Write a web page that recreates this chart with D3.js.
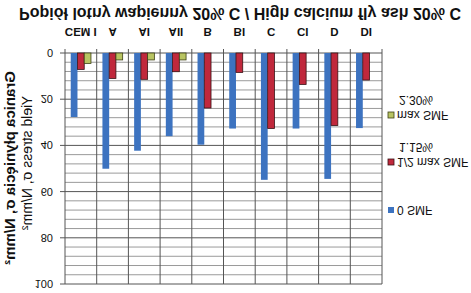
<!DOCTYPE html>
<html>
<head>
<meta charset="utf-8">
<script src="https://cdn.jsdelivr.net/npm/d3@7"></script>
<style>
  body { margin: 0; background: #fff; }
  text { font-family: "Liberation Sans", Arial, sans-serif; fill: #111; }
</style>
</head>
<body>
<div id="chart"></div>
<script>
// data
const categories = ['CEM I', 'A', 'AI', 'AII', 'B', 'BI', 'C', 'CI', 'D', 'DI'];
const smf0 = [27.7, 50.1, 42.3, 36, 39.7, 32.7, 54.9, 32.7, 54.5, 32.5];
const smfHalf = [7.1, 11, 11.4, 8.1, 23.8, 8.4, 32.7, 13.6, 31.4, 11.7];
const smfMax = [4.5, 3, 3, 3, null, null, null, null, null, null];
const seriesNames = ['0 SMF', '1/2 max SMF', 'max SMF'];
const seriesNotes = ['', '1.15%', '2.30%'];
const yTicks = [0, 20, 40, 60, 80, 100];

const width = 471, height = 293;
const colors = ['#3d73c0', '#c0283c', '#b8c462'];
const strokes = ['none', '#3a1216', '#3d4014'];

const svg = d3.select('#chart').append('svg')
  .attr('width', width)
  .attr('height', height);

// the whole picture is mirrored top to bottom
const root = svg.append('g')
  .attr('transform', `translate(0,${height}) scale(1,-1)`);

const x0 = d3.scaleBand().domain(categories).range([65, 382]);
const x1 = d3.scaleBand().domain(seriesNames).range([0, x0.bandwidth()]).paddingOuter(0.85);
const y = d3.scaleLinear().domain([0, 100]).range([240, 9]);

// minor grid
root.append('g')
  .selectAll('line')
  .data(d3.range(0, 101, 4).filter(v => v % 20 !== 0))
  .enter().append('line')
  .attr('x1', 65).attr('x2', 382)
  .attr('y1', d => y(d)).attr('y2', d => y(d))
  .attr('stroke', '#9a9a9a').attr('stroke-width', 1);

// major grid
root.append('g')
  .selectAll('line')
  .data(yTicks)
  .enter().append('line')
  .attr('x1', 60).attr('x2', 382)
  .attr('y1', d => y(d)).attr('y2', d => y(d))
  .attr('stroke', '#555').attr('stroke-width', 1);

// vertical grid at category borders
root.append('g')
  .selectAll('line')
  .data(categories.slice(1).concat(['end']))
  .enter().append('line')
  .attr('x1', d => d === 'end' ? 382 : x0(d))
  .attr('x2', d => d === 'end' ? 382 : x0(d))
  .attr('y1', y(100)).attr('y2', y(0) + 4)
  .attr('stroke', '#555').attr('stroke-width', 1);

// axis line
root.append('line')
  .attr('x1', 65).attr('x2', 65)
  .attr('y1', y(100)).attr('y2', y(0) + 4)
  .attr('stroke', '#555');

// bars
const allSeries = [smf0, smfHalf, smfMax];
allSeries.forEach((vals, s) => {
  root.append('g')
    .selectAll('rect')
    .data(vals.map((v, i) => ({ cat: categories[i], v })).filter(d => d.v != null))
    .enter().append('rect')
    .attr('x', d => x0(d.cat) + x1(seriesNames[s]))
    .attr('y', d => y(d.v))
    .attr('width', x1.bandwidth())
    .attr('height', d => y(0) - y(d.v))
    .attr('fill', colors[s])
    .attr('stroke', strokes[s])
    .attr('stroke-width', 0.8);
});

// y tick labels
root.append('g')
  .selectAll('text')
  .data(yTicks)
  .enter().append('text')
  .attr('x', 53)
  .attr('y', d => y(d) + 4)
  .attr('text-anchor', 'end')
  .style('font-size', '11px')
  .text(d => d);

// category labels
root.append('g')
  .selectAll('text')
  .data(categories)
  .enter().append('text')
  .attr('x', d => x0(d) + x0.bandwidth() / 2)
  .attr('y', 265)
  .attr('text-anchor', 'middle')
  .style('font-size', '11.5px')
  .style('font-weight', 'bold')
  .text(d => d);

// title
root.append('text')
  .attr('x', 240)
  .attr('y', 285)
  .attr('text-anchor', 'middle')
  .style('font-size', '16px')
  .style('font-weight', 'bold')
  .text('Popiół lotny wapienny 20% C / High calcium fly ash 20% C');

// y axis titles
root.append('text')
  .attr('transform', 'translate(15,125) rotate(-90)')
  .attr('text-anchor', 'middle')
  .style('font-size', '15px')
  .style('font-weight', 'bold')
  .text('Granica płynięcia σ, N/mm²');

root.append('text')
  .attr('transform', 'translate(32,130) rotate(-90)')
  .attr('text-anchor', 'middle')
  .style('font-size', '14px')
  .text('Yield stress σ, N/mm²');

// legend
const legendY = [83, 131, 178];
const legend = root.append('g');
seriesNames.forEach((name, s) => {
  legend.append('rect')
    .attr('x', 388).attr('y', legendY[s] - 3)
    .attr('width', 6).attr('height', 6)
    .attr('fill', colors[s])
    .attr('stroke', s === 0 ? 'none' : strokes[s])
    .attr('stroke-width', 0.8);
  legend.append('text')
    .attr('x', 397).attr('y', legendY[s] + 4)
    .style('font-size', '12px')
    .text(name);
  if (seriesNotes[s]) {
    legend.append('text')
      .attr('x', 399).attr('y', legendY[s] + 19)
      .style('font-size', '12px')
      .text(seriesNotes[s]);
  }
});
</script>
</body>
</html>
